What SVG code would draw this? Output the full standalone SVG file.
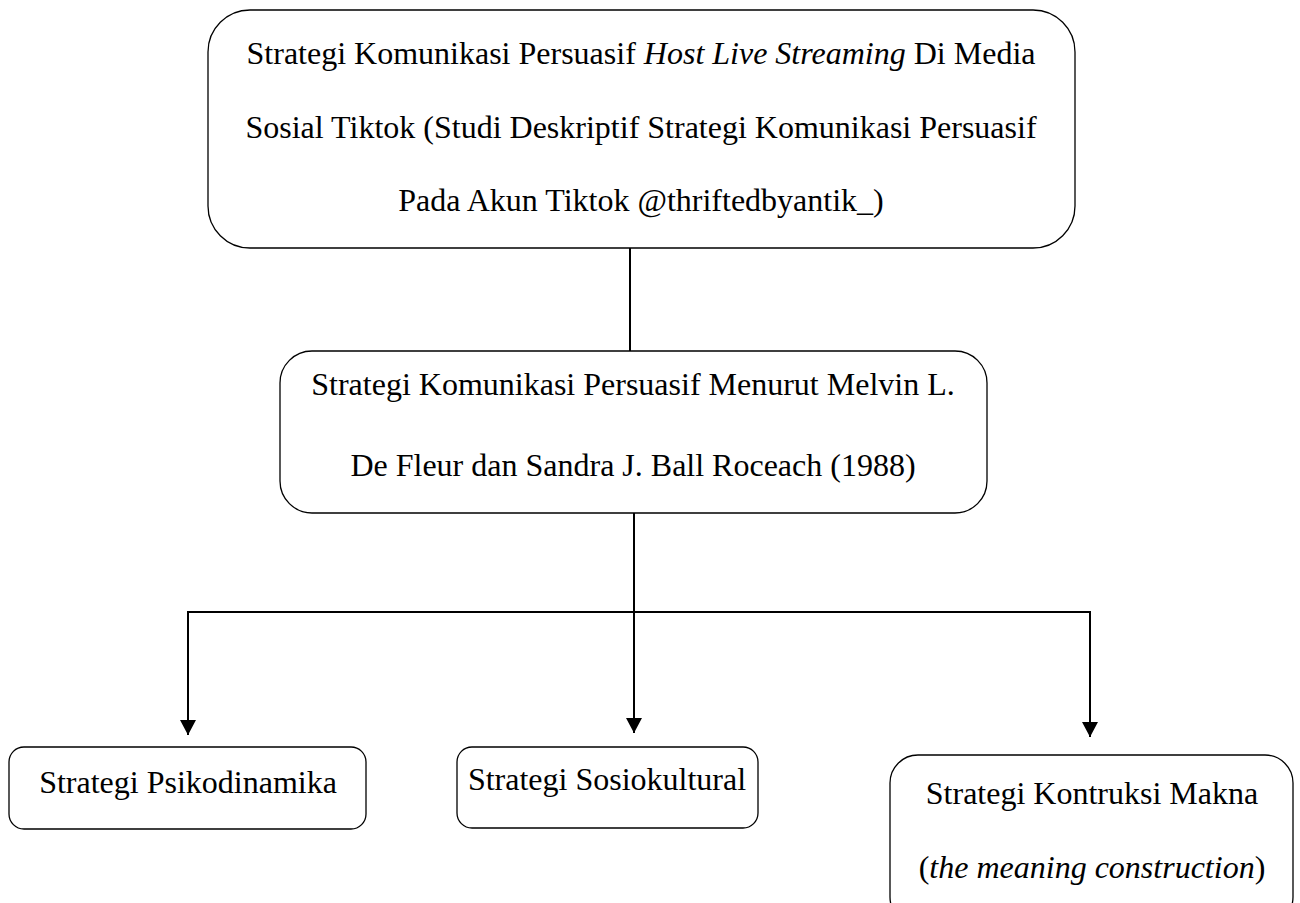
<svg xmlns="http://www.w3.org/2000/svg" width="1300" height="903" viewBox="0 0 1300 903">
<style>
.box{fill:#fff;stroke:#000;stroke-width:1.3}
.t{font-family:"Liberation Serif","Times New Roman",serif;font-size:32px;fill:#000;text-anchor:middle}
.c{fill:none;stroke:#000;stroke-width:2}
</style>
<defs>
<marker id="ah" markerWidth="17" markerHeight="16" viewBox="0 0 16 17" refX="16" refY="8.5" orient="auto" markerUnits="userSpaceOnUse">
<path d="M0,0 L16,8.5 L0,17 Z" fill="#000"/>
</marker>
</defs>
<rect width="1300" height="903" fill="#fff"/>
<g id="connectors">
<line class="c" x1="630" y1="248" x2="630" y2="351"/>
<line class="c" x1="634" y1="513" x2="634" y2="612"/>
<polyline class="c" points="188,612 1090,612"/>
<line class="c" x1="188" y1="611" x2="188" y2="735" marker-end="url(#ah)"/>
<line class="c" x1="634" y1="611" x2="634" y2="733" marker-end="url(#ah)"/>
<line class="c" x1="1090" y1="611" x2="1090" y2="737" marker-end="url(#ah)"/>
</g>
<g id="node-title">
<rect class="box" x="208" y="10" width="867" height="238" rx="42" ry="42"/>
<text class="t" x="641" y="64">Strategi Komunikasi Persuasif <tspan font-style="italic">Host Live Streaming</tspan> Di Media</text>
<text class="t" x="641" y="138">Sosial Tiktok (Studi Deskriptif Strategi Komunikasi Persuasif</text>
<text class="t" x="641" y="211">Pada Akun Tiktok @thriftedbyantik_)</text>
</g>
<g id="node-theory">
<rect class="box" x="280" y="351" width="707" height="162" rx="32" ry="32"/>
<text class="t" x="633" y="395">Strategi Komunikasi Persuasif Menurut Melvin L.</text>
<text class="t" x="633" y="476">De Fleur dan Sandra J. Ball Roceach (1988)</text>
</g>
<g id="node-psiko">
<rect class="box" x="9" y="747" width="357" height="82" rx="15" ry="15"/>
<text class="t" x="188" y="793">Strategi Psikodinamika</text>
</g>
<g id="node-sosio">
<rect class="box" x="457" y="747" width="301" height="81" rx="15" ry="15"/>
<text class="t" x="607" y="790">Strategi Sosiokultural</text>
</g>
<g id="node-makna">
<rect class="box" x="890" y="755" width="403" height="170" rx="28" ry="28"/>
<text class="t" x="1092" y="804">Strategi Kontruksi Makna</text>
<text class="t" x="1092" y="878">(<tspan font-style="italic">the meaning construction</tspan>)</text>
</g>
</svg>
